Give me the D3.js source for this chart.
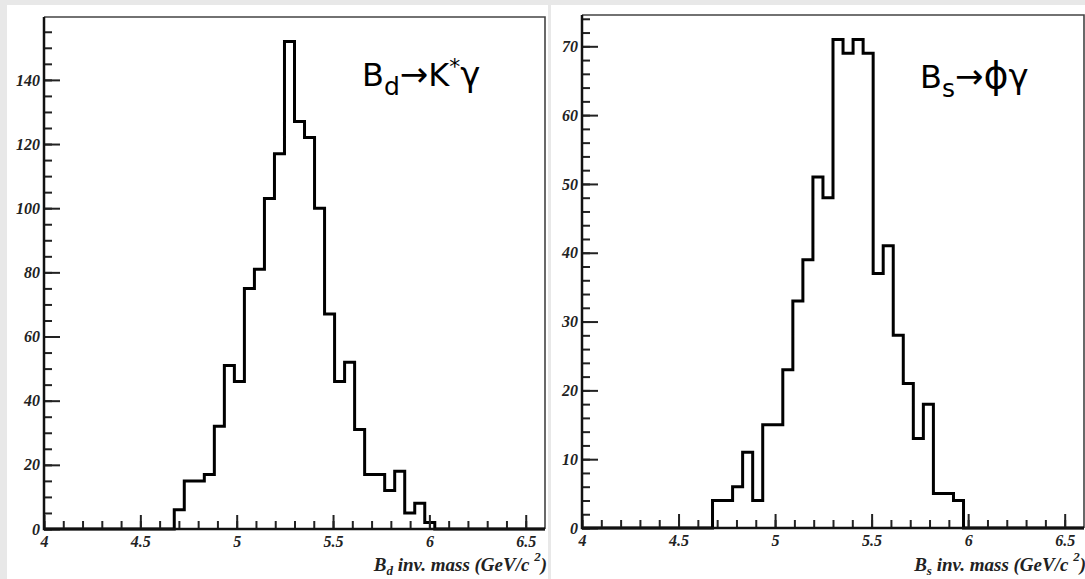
<!DOCTYPE html>
<html>
<head>
<meta charset="utf-8">
<script src="https://cdn.jsdelivr.net/npm/d3@7"></script>
<style>
  body { margin: 0; background: #e8e8e8; }
  svg { display: block; }
  .lab { font-family: "Liberation Serif", serif; font-weight: bold; font-style: italic; fill: #222; }
</style>
</head>
<body>
<script>
// histogram binning (ROOT style: 50 bins from 4 to 6.6)
let binLow = 4, binHigh = 6.6, nBins = 50;

// B_d -> K* gamma counts, starting at bin 13
let bdFirst = 13;
let bdCounts = [6, 15, 15, 17, 32, 51, 46, 75, 81, 103, 117, 152, 127, 122, 100, 67, 46, 52, 31, 17, 17, 12, 18, 5, 8, 2];

// B_s -> phi gamma counts, starting at bin 13
let bsFirst = 13;
let bsCounts = [4, 4, 6, 11, 4, 15, 15, 23, 33, 39, 51, 48, 71, 69, 71, 69, 37, 41, 28, 21, 13, 18, 5, 5, 4];

let xTickLabels = [4, 4.5, 5, 5.5, 6, 6.5];
let bdYTicks = [0, 20, 40, 60, 80, 100, 120, 140];
let bsYTicks = [0, 10, 20, 30, 40, 50, 60, 70];

let svg = d3.select('body').append('svg')
  .attr('width', 1085)
  .attr('height', 579);

// white pads
svg.append('rect').attr('x', 7).attr('y', 5).attr('width', 541).attr('height', 574).attr('fill', '#fff');
svg.append('rect').attr('x', 551).attr('y', 5).attr('width', 534).attr('height', 574).attr('fill', '#fff');

function drawPanel(p) {
  let g = svg.append('g');
  let x = d3.scaleLinear().domain([binLow, binHigh]).range([p.left, p.right]);
  let y = d3.scaleLinear().domain([0, p.ymax]).range([p.zero, p.top]);

  // frame (top and right)
  g.append('path')
    .attr('d', `M${p.left},${p.top}H${p.right}V${p.zero}`)
    .attr('fill', 'none').attr('stroke', '#444').attr('stroke-width', 1.6);

  // histogram outline
  let w = (binHigh - binLow) / nBins;
  let pts = [[binLow, 0]];
  for (let i = 0; i < nBins; i++) {
    let j = i - p.first;
    let v = (j >= 0 && j < p.counts.length) ? p.counts[j] : 0;
    pts.push([binLow + i * w, v]);
  }
  pts.push([binHigh, 0]);
  let line = d3.line().x(d => x(d[0])).y(d => y(d[1])).curve(d3.curveStepAfter);
  g.append('path').datum(pts)
    .attr('d', line)
    .attr('fill', 'none').attr('stroke', '#000').attr('stroke-width', 3);

  // y axis: minor ticks, major ticks, labels
  let yMinor = d3.range(0, p.ymax, p.yMinorStep);
  g.append('g').attr('transform', `translate(${p.left},0)`)
    .call(d3.axisRight(y).tickValues(yMinor).tickSize(8).tickFormat(''))
    .call(a => a.select('.domain').remove())
    .selectAll('line').attr('stroke', '#222').attr('stroke-width', 2);
  g.append('g').attr('transform', `translate(${p.left},0)`)
    .call(d3.axisRight(y).tickValues(p.yTicks).tickSize(16).tickFormat(''))
    .call(a => a.select('.domain').remove())
    .selectAll('line').attr('stroke', '#222').attr('stroke-width', 2);
  let yl = g.append('g').attr('transform', `translate(${p.left},0)`)
    .call(d3.axisLeft(y).tickValues(p.yTicks).tickSize(0).tickPadding(4));
  yl.select('.domain').remove();
  yl.selectAll('text').attr('class', 'lab').attr('font-size', 16);

  // x axis: minor ticks (0.1), major ticks (0.5), labels
  let xMinor = d3.range(40, 66).map(d => d / 10);
  g.append('g').attr('transform', `translate(0,${p.zero})`)
    .call(d3.axisTop(x).tickValues(xMinor).tickSize(8).tickFormat(''))
    .call(a => a.select('.domain').remove())
    .selectAll('line').attr('stroke', '#222').attr('stroke-width', 2);
  g.append('g').attr('transform', `translate(0,${p.zero})`)
    .call(d3.axisTop(x).tickValues(xTickLabels).tickSize(14).tickFormat(''))
    .call(a => a.select('.domain').remove())
    .selectAll('line').attr('stroke', '#222').attr('stroke-width', 2);
  let xl = g.append('g').attr('transform', `translate(0,${p.zero})`)
    .call(d3.axisBottom(x).tickValues(xTickLabels).tickSize(0).tickPadding(7).tickFormat(d3.format('')));
  xl.select('.domain').remove();
  xl.selectAll('text').attr('class', 'lab').attr('font-size', 16);

  // axis lines
  g.append('path')
    .attr('d', `M${p.left},${p.top}V${p.zero}H${p.right}`)
    .attr('fill', 'none').attr('stroke', '#111').attr('stroke-width', 2.5);

  // axis title
  let t = g.append('text').attr('class', 'lab')
    .attr('x', p.right + 2).attr('y', 571)
    .attr('text-anchor', 'end').attr('font-size', 19);
  t.append('tspan').text('B');
  t.append('tspan').attr('font-size', 13).attr('dy', 4).text(p.sub);
  t.append('tspan').attr('dy', -4).text(' inv. mass (GeV/c ');
  t.append('tspan').attr('font-size', 13).attr('dy', -10).text('2');
  t.append('tspan').attr('dy', 10).text(')');

  // decay label
  let d = g.append('text')
    .attr('x', p.titleX).attr('y', p.titleY)
    .attr('font-family', '"DejaVu Sans", sans-serif')
    .attr('font-size', 32).attr('fill', '#000');
  d.append('tspan').text('B');
  d.append('tspan').attr('font-size', 25).attr('dy', 9).text(p.sub);
  d.append('tspan').attr('dy', -9).attr('font-size', 34).text('→');
  d.append('tspan').attr('font-size', p.decaySize).text(p.decay[0]);
  if (p.decay[1]) d.append('tspan').attr('font-size', 22).attr('dy', -12).text(p.decay[1]);
  d.append('tspan').attr('dy', p.decay[1] ? 12 : 0).attr('font-size', 34).text('γ');
}

drawPanel({
  left: 44, right: 545, top: 17, zero: 529, ymax: 159.6,
  yTicks: bdYTicks, yMinorStep: 5,
  counts: bdCounts, first: bdFirst,
  sub: 'd', decay: ['K', '*'], decaySize: 32, titleX: 362, titleY: 86
});

drawPanel({
  left: 582, right: 1084, top: 15, zero: 528, ymax: 74.55,
  yTicks: bsYTicks, yMinorStep: 2,
  counts: bsCounts, first: bsFirst,
  sub: 's', decay: ['ϕ'], decaySize: 38, titleX: 920, titleY: 88
});
</script>
</body>
</html>
